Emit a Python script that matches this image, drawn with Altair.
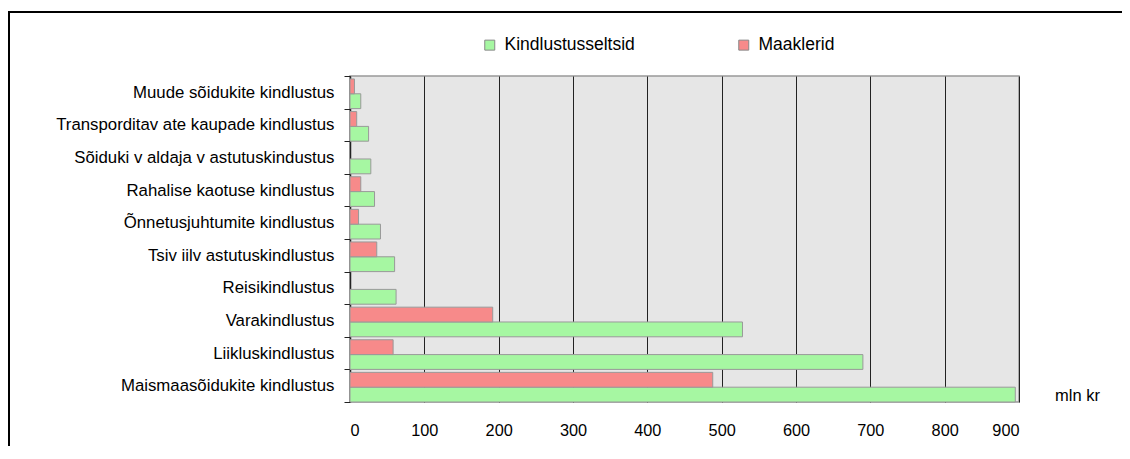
import altair as alt
import pandas as pd

categories = [
    "Muude sõidukite kindlustus",
    "Transporditav ate kaupade kindlustus",
    "Sõiduki v aldaja v astutuskindustus",
    "Rahalise kaotuse kindlustus",
    "Õnnetusjuhtumite kindlustus",
    "Tsiv iilv astutuskindlustus",
    "Reisikindlustus",
    "Varakindlustus",
    "Liikluskindlustus",
    "Maismaasõidukite kindlustus",
]
kindlustusseltsid = [14.5, 25, 28, 33, 41, 60, 62, 528, 690, 895]
maaklerid = [6, 9, 0, 14.5, 11.5, 36, 0, 192, 58, 488]
series = ["Kindlustusseltsid", "Maaklerid"]
x_ticks = [0, 100, 200, 300, 400, 500, 600, 700, 800, 900]

rows = []
for c, k, m in zip(categories, kindlustusseltsid, maaklerid):
    rows.append({"cat": c, "series": series[0], "value": k})
    rows.append({"cat": c, "series": series[1], "value": m})
df = pd.DataFrame(rows)

FONT = "Liberation Sans"
W, H = 669, 326
PAD_L, PAD_T = 342, 68

bars = alt.Chart(df).transform_filter("datum.value > 0").mark_bar(
    stroke="#999999", strokeWidth=1
).encode(
    x=alt.X("value:Q",
            scale=alt.Scale(domain=[0, 900], nice=False, zero=True),
            axis=alt.Axis(values=x_ticks, title="mln kr", ticks=False, domain=False,
                          grid=True, gridColor="#222222", gridWidth=1,
                          labelPadding=20, labelFontSize=16.3, labelColor="#000000",
                          titleX=727, titleY=-7, titleAlign="center",
                          titleBaseline="middle", titleFontSize=16.5,
                          titleFontWeight="normal", titleColor="#000000")),
    y=alt.Y("cat:N", sort=categories,
            scale=alt.Scale(paddingInner=0, paddingOuter=0),
            axis=alt.Axis(title=None, tickBand="extent", tickSize=6, tickColor="#222222",
                          domainColor="#222222", domainWidth=1.5, labelFontSize=16.8,
                          labelColor="#000000", labelPadding=10, labelLimit=400,
                          grid=False)),
    yOffset=alt.YOffset("series:N", sort=["Maaklerid", "Kindlustusseltsid"],
                        scale=alt.Scale(paddingInner=0, paddingOuter=0.1, align=1)),
    color=alt.Color("series:N",
                    scale=alt.Scale(domain=series, range=["#a6f7a2", "#f78a8a"]),
                    legend=alt.Legend(title=None, orient="none", legendX=131, legendY=-40,
                                      direction="horizontal", columnPadding=100,
                                      symbolType="square", symbolSize=100,
                                      symbolStrokeColor="#888888", symbolStrokeWidth=1,
                                      labelFontSize=17.5, labelOffset=6, padding=0,
                                      labelColor="#000000")),
)

frame_df = pd.DataFrame({"a": [0]})
top_line = alt.Chart(frame_df).mark_rule(color="#000000", strokeWidth=2).encode(
    x=alt.value(-342), x2=alt.value(1130 - 350), y=alt.value(-64)
)
left_line = alt.Chart(frame_df).mark_rule(color="#000000", strokeWidth=2).encode(
    x=alt.value(-341), y=alt.value(-64), y2=alt.value(459 - 76)
)

chart = alt.layer(bars, top_line, left_line).properties(
    width=W, height=H,
    autosize=alt.AutoSizeParams(type="none"),
    padding={"left": PAD_L, "top": PAD_T, "right": 1114 - PAD_L - W, "bottom": 438 - PAD_T - H},
).configure(font=FONT).configure_view(
    fill="#e6e6e6", stroke="#999999", strokeWidth=1.5
)

chart.save("out.html", embed_options={"renderer": "svg", "actions": False})
